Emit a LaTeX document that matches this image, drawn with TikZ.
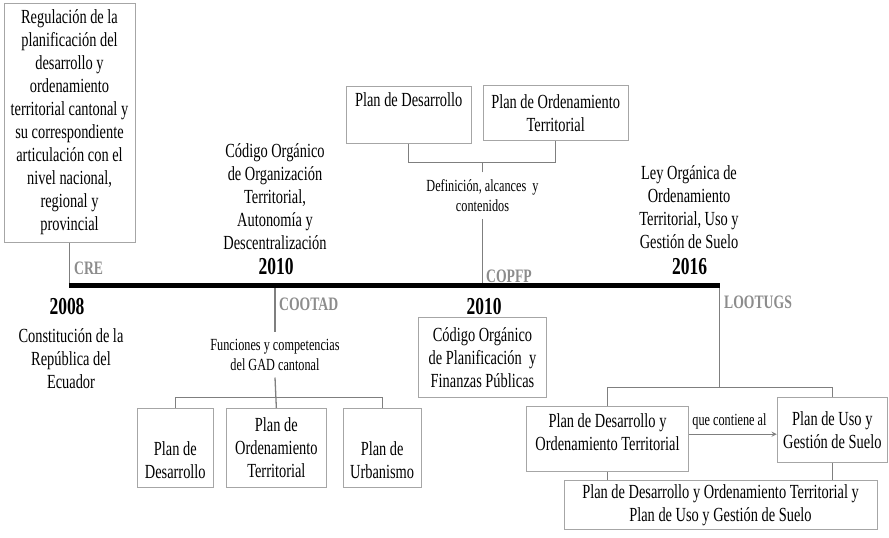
\documentclass[tikz,border=0pt]{standalone}
\usepackage{fontspec}
\setmainfont[FakeStretch=0.72]{Liberation Serif}
\definecolor{linegray}{HTML}{7F7F7F}
\definecolor{boxgray}{HTML}{A6A6A6}
\definecolor{labelgray}{HTML}{8C8C8C}
\newcommand{\txtnormal}{\fontsize{20}{23}\selectfont}
\newcommand{\txtsmall}{\fontsize{17}{20}\selectfont}
\begin{document}
\begin{tikzpicture}[x=1pt,y=-1pt,>=stealth,
  box/.style={draw=boxgray,line width=1pt,align=center,inner sep=0pt,font=\txtnormal},
  plain/.style={align=center,inner sep=0pt,font=\txtnormal},
  note/.style={align=center,inner xsep=0pt,inner ysep=7pt,font=\txtsmall},
  law/.style={anchor=west,inner sep=0pt,text=labelgray,font=\fontsize{19}{21}\selectfont\bfseries},
  year/.style={inner sep=0pt,font=\fontsize{24.3}{26}\selectfont\bfseries},
  conn/.style={draw=linegray,line width=1.3pt}]
\useasboundingbox (0,0) rectangle (889,538);
% time line
\coordinate (t0) at (69.5,285.5);
\coordinate (t1) at (719.5,285.5);
% 2008
\node[box,minimum width=131,minimum height=239] (crebox) at (69.5,122.5) {Regulación de la\\planificación del\\desarrollo y\\ordenamiento\\territorial cantonal y\\su correspondiente\\articulación con el\\nivel nacional,\\regional y\\provincial};
\node[law] (cre) at (74,268.3) {CRE};
\node[year] (y2008) at (67,306.7) {2008};
\node[plain] (cretxt) at (71,358.3) {Constitución de la\\República del\\Ecuador};
% 2010 cootad
\node[plain] (cootadtxt) at (275,196.7) {Código Orgánico\\de Organización\\Territorial,\\Autonomía y\\Descentralización};
\node[year] (y2010a) at (276,266.7) {2010};
\node[law] (cootad) at (279,304) {COOTAD};
\node[note] (cootadnote) at (275,354.6) {Funciones y competencias\\del GAD cantonal};
\node[box,minimum width=76,minimum height=79] (pdsmall) at (175.3,447.8) {\strut\\Plan de\\Desarrollo};
\node[box,minimum width=99.3,minimum height=79] (potsmall) at (276.35,447.8) {Plan de\\Ordenamiento\\Territorial};
\node[box,minimum width=77.7,minimum height=79] (pusmall) at (382.15,447.5) {\strut\\Plan de\\Urbanismo};
% 2010 copfp
\node[box,minimum width=125.3,minimum height=57.3] (pdbox) at (408.65,114.65) {Plan de Desarrollo\\\strut};
\node[box,minimum width=144.7,minimum height=55.7] (potbox) at (555.65,112.85) {Plan de Ordenamiento\\Territorial};
\node[note] (copfpnote) at (482.5,195.7) {Definición, alcances~ y\\contenidos};
\node[law] (copfp) at (486,276.7) {COPFP};
\node[year] (y2010b) at (484,306.7) {2010};
\node[box,minimum width=128.4,minimum height=80] (copfpbox) at (482.5,357.3) {Código Orgánico\\de Planificación~ y\\Finanzas Públicas};
% 2016
\node[plain] (lootugstxt) at (689,207) {Ley Orgánica de\\Ordenamiento\\Territorial, Uso y\\Gestión de Suelo};
\node[year] (y2016) at (689.5,266.7) {2016};
\node[law] (lootugs) at (724,302.7) {LOOTUGS};
\node[box,minimum width=161.6,minimum height=65,text depth=15pt] (pdotbox) at (607.5,439.2) {Plan de Desarrollo y\\Ordenamiento Territorial};
\node[box,minimum width=110,minimum height=65.4] (pugsbox) at (832.3,430) {Plan de Uso y\\Gestión de Suelo};
\node[note,inner ysep=2pt] (contiene) at (729.5,421) {que contiene al};
\node[box,minimum width=313,minimum height=48.5] (bothbox) at (720.5,504.75) {Plan de Desarrollo y Ordenamiento Territorial y\\Plan de Uso y Gestión de Suelo};
% connectors
\draw[conn] (crebox.south) -- (t0);
\draw[conn] (cootadnote.north) -- (cootadnote.north |- t0);
\draw[conn] (cootadnote.south) -- (potsmall.north);
\draw[conn] (pdsmall.north) -- ++(0,-10) -| (pusmall.north);
\draw[conn] (pdbox.south) -- ++(0,19) coordinate (pdjoin) -| (potbox.south);
\draw[conn] (copfpnote.north) -- (copfpnote.north |- pdjoin);
\draw[conn] (copfpnote.south) -- (copfpnote.south |- t0);
\draw[conn] (t1) -- ++(0,102) coordinate (lootugsjoin);
\draw[conn] (pdotbox.north) |- (lootugsjoin) -| (pugsbox.north);
\draw[conn,->] ([yshift=5pt]pdotbox.east) -- ([yshift=5pt]pdotbox.east -| pugsbox.west);
\draw[conn] (pdotbox.south) -- (pdotbox.south |- bothbox.north);
\draw[conn] (pugsbox.south) -- (pugsbox.south |- bothbox.north);
\draw[line width=5.5pt] ([xshift=-0.65pt]t0) -- ([xshift=0.65pt]t1);
\end{tikzpicture}
\end{document}
